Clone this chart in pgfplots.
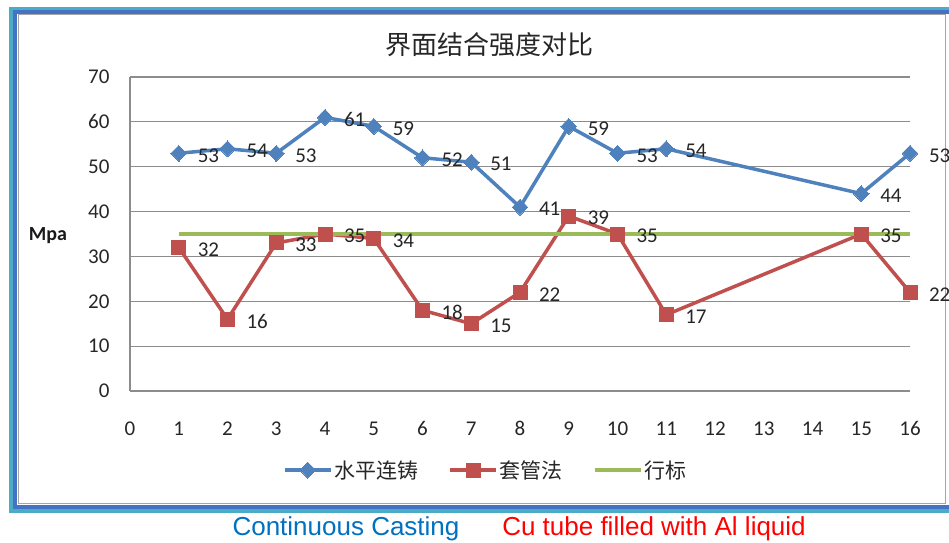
\documentclass[border=0pt]{standalone}
\usepackage{pgfplots}
\pgfplotsset{compat=1.18}
\usepackage{fontspec}
\setmainfont{Carlito}
\newfontfamily\cjk{Noto Sans CJK SC}
\newfontfamily\arial{Liberation Sans}
\definecolor{xblue}{RGB}{79,129,189}
\definecolor{xred}{RGB}{192,80,77}
\definecolor{xgreen}{RGB}{155,187,89}
\definecolor{frteal}{RGB}{75,172,198}
\definecolor{frblue}{RGB}{68,114,196}
\definecolor{txtblue}{RGB}{0,112,192}
\definecolor{gridgray}{RGB}{140,140,140}
\begin{document}
\begin{tikzpicture}[x=1pt,y=1pt]
\useasboundingbox (0,0) rectangle (949,542);
\begin{scope}
\clip (0,0) rectangle (949,542);
\draw[frteal, line width=4pt] (11,31) rectangle (960,533);
\draw[frblue, line width=4pt] (15,35.5) rectangle (956,529.5);
\draw[gray!70, line width=1pt] (18.5,39) rectangle (945,527);
\end{scope}
\node[font=\cjk\fontsize{26}{30}\selectfont, text=black!85] at (489,497) {界面结合强度对比};
\node[font=\bfseries\fontsize{20}{24}\selectfont, text=black!90] at (48,306) {Mpa};
\node[font=\arial\fontsize{26}{30}\selectfont, text=txtblue] at (346,13) {Continuous Casting};
\node[font=\arial\fontsize{26}{30}\selectfont, text=red] at (654,13) {Cu tube filled with Al liquid};
\begin{axis}[
  at={(130pt,151pt)}, anchor=south west,
  scale only axis, width=780pt, height=314pt,
  xmin=0, xmax=16, ymin=0, ymax=70,
  xtick={0,1,...,16}, ytick={0,10,...,70},
  axis x line*=bottom, axis y line*=left,
  axis line style={-, gridgray, line width=1.2pt},
  ymajorgrids, major grid style={gridgray, line width=1.2pt},
  major tick length=0pt,
  /pgf/number format/assume math mode=true,
  tick label style={font=\fontsize{21}{25}\selectfont, text=black!85},
  xticklabel style={yshift=-27pt},
  yticklabel style={xshift=-17pt},
  clip=false,
  legend columns=3,
  legend style={at={(axis description cs:0.456,-0.2516)}, anchor=center, draw=none, fill=none,
    font=\cjk\fontsize{21}{25}\selectfont, text=black!85,
    /tikz/every even column/.append style={column sep=28pt}},
  legend image code/.code={\draw[#1, mark repeat=2, mark phase=2] plot coordinates {(0pt,0pt) (23pt,0pt) (46pt,0pt)};},
  nodes near coords,
  every node near coord/.append style={anchor=west, inner sep=0pt, xshift=19pt, yshift=-2pt,
    font=\fontsize{21}{25}\selectfont, text=black!85},
]
\addplot[xblue, line width=3.5pt, mark=diamond*, mark size=8pt, mark options={solid, fill=xblue, line width=0pt, xscale=1.3}] coordinates {
(1,53) (2,54) (3,53) (4,61) (5,59) (6,52) (7,51) (8,41) (9,59) (10,53) (11,54) (15,44) (16,53)};
\addlegendentry{水平连铸}
\addplot[xred, line width=3.5pt, mark=square*, mark size=7pt, mark options={solid, fill=xred, line width=0pt}] coordinates {
(1,32) (2,16) (3,33) (4,35) (5,34) (6,18) (7,15) (8,22) (9,39) (10,35) (11,17) (15,35) (16,22)};
\addlegendentry{套管法}
\addplot[xgreen, line width=3.5pt, no marks, nodes near coords=] coordinates {(1,35) (16,35)};
\addlegendentry{行标}
\end{axis}
\end{tikzpicture}
\end{document}
